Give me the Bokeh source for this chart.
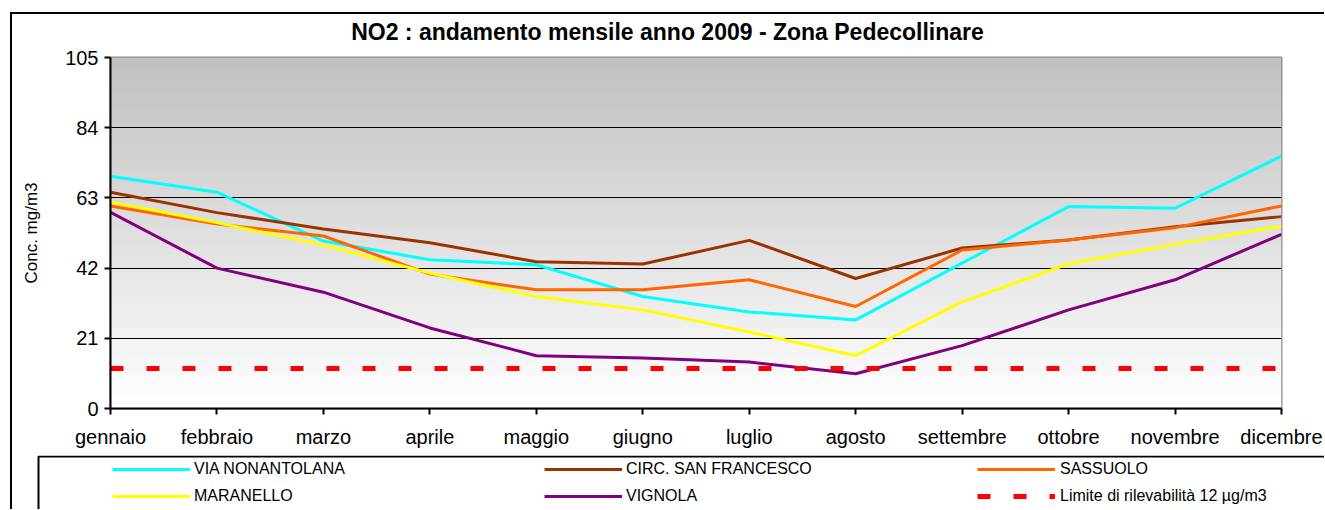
import numpy as np
from bokeh.plotting import figure
from bokeh.layouts import column
from bokeh.models import Range1d, FixedTicker, Legend, LegendItem, BoxAnnotation, Label
from bokeh.embed import file_html
from bokeh.resources import INLINE

months = ["gennaio", "febbraio", "marzo", "aprile", "maggio", "giugno",
          "luglio", "agosto", "settembre", "ottobre", "novembre", "dicembre"]
via_nonantolana = [69.5, 64.7, 50.1, 44.5, 43.0, 33.5, 28.9, 26.5, 43.5, 60.4, 59.9, 75.5]
circ_san_francesco = [64.7, 58.6, 53.7, 49.6, 43.9, 43.2, 50.3, 38.9, 48.0, 50.4, 54.4, 57.4]
sassuolo = [60.6, 55.2, 51.6, 40.2, 35.5, 35.5, 38.5, 30.5, 47.4, 50.4, 54.1, 60.6]
maranello = [61.8, 55.6, 48.9, 40.5, 33.5, 29.5, 22.9, 15.8, 31.9, 43.3, 49.1, 54.6]
vignola = [58.7, 42.0, 34.8, 24.1, 15.8, 15.1, 13.9, 10.4, 18.8, 29.5, 38.5, 52.1]
limite = [12] * 12
y_ticks = [0, 21, 42, 63, 84, 105]

series_labels = ["VIA NONANTOLANA", "CIRC. SAN FRANCESCO", "SASSUOLO",
                 "MARANELLO", "VIGNOLA", "Limite di rilevabilità 12 µg/m3"]
series_colors = ["#00FFFF", "#993300", "#FF6600", "#FFFF00", "#800080", "#FF0000"]
title_text = "NO2 : andamento mensile anno 2009 - Zona Pedecollinare"

FONT = "Liberation Sans"
W = 1312
x = list(range(len(months)))


def no_align(fig):
    if "frame_align" in fig.properties():
        fig.frame_align = False


# ---------------- title strip ----------------
TH = 31
pt = figure(width=W, height=TH, x_range=Range1d(0, W), y_range=Range1d(0, TH),
            output_backend="svg", toolbar_location=None,
            x_axis_type=None, y_axis_type=None,
            min_border_left=0, min_border_right=0, min_border_top=0, min_border_bottom=0,
            outline_line_color=None, background_fill_color="white", border_fill_color="white")
pt.grid.visible = False
no_align(pt)
pt.add_layout(Label(x=655, y=14, text=title_text, text_font=FONT, text_font_size="23px",
                    text_font_style="bold", text_align="center", text_baseline="middle",
                    text_color="black"))

# ---------------- main chart ----------------
p = figure(width=W, height=410,
           x_range=Range1d(x[0], x[-1]), y_range=Range1d(y_ticks[0], y_ticks[-1]),
           output_backend="svg", toolbar_location=None,
           min_border_left=98, min_border_right=43, min_border_top=12, min_border_bottom=47,
           background_fill_color="white", border_fill_color="white",
           outline_line_color="#8c8c8c", outline_line_width=2)
no_align(p)

# gradient background of plot area
n = 256
t = np.linspace(0.0, 1.0, n)
g = np.round(255 - 63 * t).astype(np.uint8)
img = np.empty((n, 2), dtype=np.uint32)
view = img.view(dtype=np.uint8).reshape((n, 2, 4))
for c in range(2):
    view[:, c, 0] = g
    view[:, c, 1] = g
    view[:, c, 2] = g
    view[:, c, 3] = 255
p.image_rgba(image=[img], x=x[0], y=y_ticks[0], dw=x[-1] - x[0],
             dh=y_ticks[-1] - y_ticks[0], level="image")

p.xaxis.ticker = FixedTicker(ticks=x)
p.xaxis.major_label_overrides = {i: m for i, m in enumerate(months)}
p.yaxis.ticker = FixedTicker(ticks=y_ticks)
for ax in (p.xaxis[0], p.yaxis[0]):
    ax.axis_line_color = "black"
    ax.axis_line_width = 2
    ax.major_tick_line_color = "black"
    ax.major_tick_line_width = 2
    ax.major_tick_out = 6
    ax.major_tick_in = 0
    ax.minor_tick_line_color = None
    ax.major_label_text_font = FONT
    ax.major_label_text_color = "black"
p.xaxis.major_label_text_font_size = "20px"
p.xaxis.major_label_standoff = 11
p.yaxis.major_label_text_font_size = "20px"
p.yaxis.major_label_standoff = 6
p.yaxis.axis_label = "Conc. mg/m3"
p.yaxis.axis_label_text_font = FONT
p.yaxis.axis_label_text_font_size = "17px"
p.yaxis.axis_label_text_font_style = "normal"
p.yaxis.axis_label_text_color = "black"
p.yaxis.axis_label_standoff = 21

p.xgrid.visible = False
p.ygrid.ticker = FixedTicker(ticks=y_ticks[1:-1])
p.ygrid.grid_line_color = "black"
p.ygrid.grid_line_width = 1

all_series = [via_nonantolana, circ_san_francesco, sassuolo, maranello, vignola, limite]
styles = [dict(line_width=3)] * 5 + [dict(line_width=5, line_dash="13 23")]
for vals, col, st in zip(all_series, series_colors, styles):
    p.line(x, vals, line_color=col, **st)

# ---------------- legend strip ----------------
LH = 54
pleg = figure(width=W, height=LH, x_range=Range1d(0, W), y_range=Range1d(0, LH),
              output_backend="svg", toolbar_location=None,
              x_axis_type=None, y_axis_type=None,
              min_border_left=0, min_border_right=0, min_border_top=0, min_border_bottom=0,
              outline_line_color=None, background_fill_color="white", border_fill_color="white")
pleg.grid.visible = False
no_align(pleg)
pleg.add_layout(BoxAnnotation(left=26, right=5000, top=53, bottom=-100,
                              fill_alpha=0, line_color="black", line_width=2, line_alpha=1))
# single-point proxies (a one-point line draws nothing) that carry each series' style
proxies = []
for vals, col, st in zip(all_series, series_colors, styles):
    proxies.append(pleg.line(x[:1], vals[:1], line_color=col, **st))

cols = [((0, 3), 100, 4), ((1, 4), 532, 4), ((2, 5), 965, 5)]
for (i, j), lx, standoff in cols:
    leg = Legend(items=[LegendItem(label=series_labels[k], renderers=[proxies[k]]) for k in (i, j)],
                 location=(lx, 3), orientation="vertical",
                 padding=0, margin=0, spacing=7,
                 glyph_width=78, glyph_height=20, label_height=20,
                 label_standoff=standoff,
                 label_text_font=FONT, label_text_font_size="16px",
                 label_text_color="black",
                 border_line_alpha=0, background_fill_alpha=0)
    pleg.add_layout(leg, "center")

layout = column(pt, p, pleg, spacing=0, margin=(12, 0, 0, 10),
                styles={"border-left": "2px solid black", "border-top": "2px solid black"})

open("out.html", "w").write(file_html(layout, INLINE))
